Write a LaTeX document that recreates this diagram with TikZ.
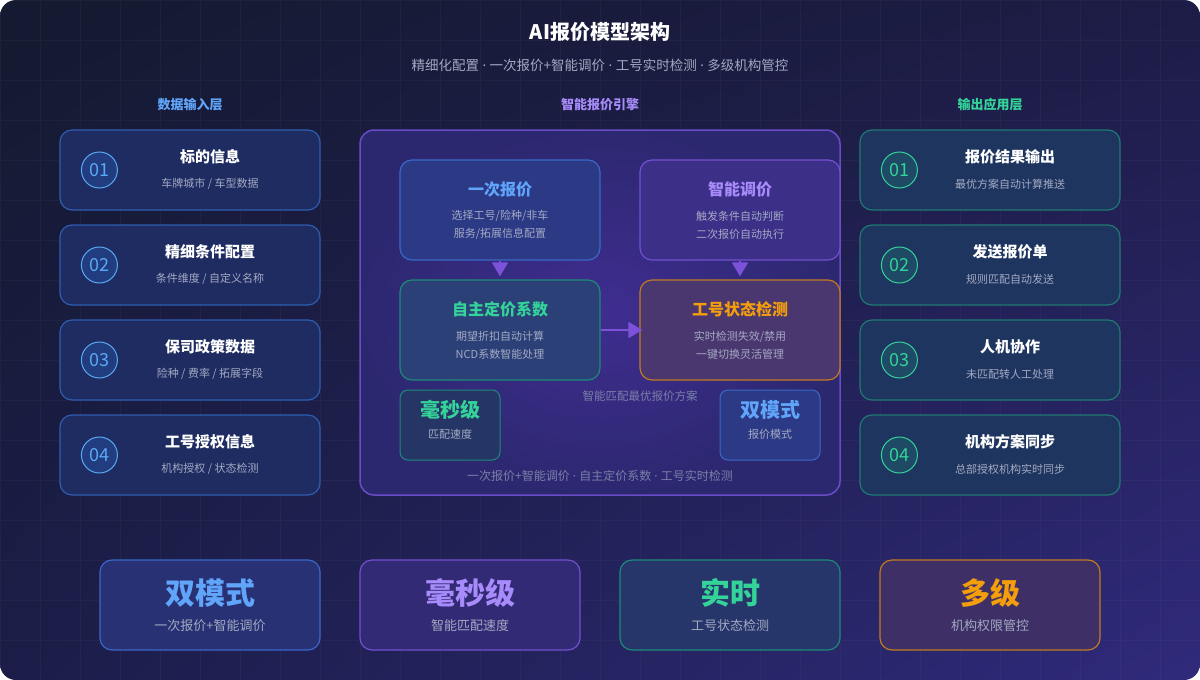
\documentclass[tikz,border=0pt]{standalone}
\usepackage{fontspec}
\setmainfont{Noto Sans CJK SC}
\newfontfamily\latinfont{Noto Sans}
\usepackage{xcolor}
\usetikzlibrary{positioning,arrows.meta,shadings}

\definecolor{bgA}{HTML}{141A30}
\definecolor{bgB}{HTML}{1D1C46}
\definecolor{bgC}{HTML}{1B1D48}
\definecolor{bgD}{HTML}{302A7C}
\definecolor{inFill}{HTML}{1F2C62}
\definecolor{inLine}{HTML}{2E5DB0}
\definecolor{inNum}{HTML}{5AA9F5}
\definecolor{inCirc}{HTML}{213D80}
\definecolor{outFill}{HTML}{1E3560}
\definecolor{outLine}{HTML}{1E7A72}
\definecolor{outNum}{HTML}{34D399}
\definecolor{outCirc}{HTML}{1E4A66}
\definecolor{engFill}{HTML}{2C2870}
\definecolor{engGlow}{HTML}{3F2D90}
\definecolor{engLine}{HTML}{6A4CC8}
\definecolor{blueFill}{HTML}{2C3A86}
\definecolor{blueLine}{HTML}{3A68C8}
\definecolor{blueText}{HTML}{60A5FA}
\definecolor{purpFill}{HTML}{3C2F88}
\definecolor{purpLine}{HTML}{7350CF}
\definecolor{purpText}{HTML}{A78BFA}
\definecolor{tealFill}{HTML}{2C4078}
\definecolor{tealLine}{HTML}{1D8A78}
\definecolor{tealText}{HTML}{34D399}
\definecolor{orFill}{HTML}{4A3770}
\definecolor{orLine}{HTML}{C27A22}
\definecolor{orText}{HTML}{F59E0B}
\definecolor{greyText}{HTML}{A3A9C2}
\definecolor{dimText}{HTML}{7B7FA8}
\definecolor{arrowC}{HTML}{7B52D9}

% narrow separator dot
\newcommand{\sepdot}{{\latinfont\ ·\ }}

\begin{document}
\begin{tikzpicture}[x=1pt, y=-1pt,
    incard/.style = {draw=inLine, fill=inFill, rounded corners=12pt, line width=1.2pt, minimum width=260pt, minimum height=80pt},
    outcard/.style = {incard, draw=outLine, fill=outFill},
    innum/.style = {circle, draw=inNum, fill=inCirc, line width=1pt, minimum size=36pt, inner sep=0pt, text=inNum, font=\fontsize{18}{18}\selectfont},
    outnum/.style = {innum, draw=outNum, fill=outCirc, text=outNum},
    cardtitle/.style = {text=white, font=\fontsize{15}{15}\selectfont\bfseries},
    cardsub/.style = {text=greyText, font=\fontsize{11}{11}\selectfont},
    layer/.style = {font=\fontsize{13}{13}\selectfont\bfseries},
    engbox/.style = {rounded corners=12pt, line width=1.2pt, minimum width=200pt, minimum height=100pt},
    enghead/.style = {font=\fontsize{16}{16}\selectfont\bfseries},
    engsub/.style = {text=greyText, align=center, font=\fontsize{11}{18}\selectfont},
    smallbox/.style = {rounded corners=8pt, line width=1pt, minimum width=100pt, minimum height=70pt},
    smallhead/.style = {font=\fontsize{20}{20}\selectfont\bfseries},
    bigbox/.style = {rounded corners=12pt, line width=1.2pt, minimum width=220pt, minimum height=90pt},
    bighead/.style = {font=\fontsize{30}{30}\selectfont\bfseries},
    bigsub/.style = {text=greyText, font=\fontsize{13}{13}\selectfont},
    flow/.style = {draw=arrowC, line width=1.5pt, -{Triangle[width=16pt,length=14pt]}}]

    % background
    \useasboundingbox (0,0) rectangle (1200,680);
    \shade[rounded corners=16pt, upper left=bgA, upper right=bgB, lower left=bgC, lower right=bgD] (0,0) rectangle (1200,680);
    \begin{scope}
        \clip[rounded corners=16pt] (0,0) rectangle (1200,680);
        \draw[white, opacity=0.03, step=40pt] (0,0) grid (1200,680);
    \end{scope}

    \node[text=white, font=\fontsize{20}{20}\selectfont\bfseries] (title) at (600,32) {AI报价模型架构};
    \node[text=greyText, font=\fontsize{13.5}{13.5}\selectfont] (subtitle) at (600,65) {精细化配置\sepdot 一次报价+智能调价\sepdot 工号实时检测\sepdot 多级机构管控};

    % input layer
    \node[layer, text=blueText] (inhead) at (190,105) {数据输入层};
    \node[incard] (in1) at (190,170) {};
    \node[incard, below=13.8pt of in1] (in2) {};
    \node[incard, below=13.8pt of in2] (in3) {};
    \node[incard, below=13.8pt of in3] (in4) {};

    \node[innum] at ([xshift=40pt]in1.west) {01};
    \node[cardtitle] at ([xshift=20pt, yshift=13pt]in1.center) {标的信息};
    \node[cardsub] at ([xshift=20pt, yshift=-14pt]in1.center) {车牌城市 / 车型数据};
    \node[innum] at ([xshift=40pt]in2.west) {02};
    \node[cardtitle] at ([xshift=20pt, yshift=13pt]in2.center) {精细条件配置};
    \node[cardsub] at ([xshift=20pt, yshift=-14pt]in2.center) {条件维度 / 自定义名称};
    \node[innum] at ([xshift=40pt]in3.west) {03};
    \node[cardtitle] at ([xshift=20pt, yshift=13pt]in3.center) {保司政策数据};
    \node[cardsub] at ([xshift=20pt, yshift=-14pt]in3.center) {险种 / 费率 / 拓展字段};
    \node[innum] at ([xshift=40pt]in4.west) {04};
    \node[cardtitle] at ([xshift=20pt, yshift=13pt]in4.center) {工号授权信息};
    \node[cardsub] at ([xshift=20pt, yshift=-14pt]in4.center) {机构授权 / 状态检测};

    % output layer
    \node[layer, text=tealText] (outhead) at (990,105) {输出应用层};
    \node[outcard] (out1) at (990,170) {};
    \node[outcard, below=13.8pt of out1] (out2) {};
    \node[outcard, below=13.8pt of out2] (out3) {};
    \node[outcard, below=13.8pt of out3] (out4) {};

    \node[outnum] at ([xshift=40pt]out1.west) {01};
    \node[cardtitle] at ([xshift=20pt, yshift=13pt]out1.center) {报价结果输出};
    \node[cardsub] at ([xshift=20pt, yshift=-14pt]out1.center) {最优方案自动计算推送};
    \node[outnum] at ([xshift=40pt]out2.west) {02};
    \node[cardtitle] at ([xshift=20pt, yshift=13pt]out2.center) {发送报价单};
    \node[cardsub] at ([xshift=20pt, yshift=-14pt]out2.center) {规则匹配自动发送};
    \node[outnum] at ([xshift=40pt]out3.west) {03};
    \node[cardtitle] at ([xshift=20pt, yshift=13pt]out3.center) {人机协作};
    \node[cardsub] at ([xshift=20pt, yshift=-14pt]out3.center) {未匹配转人工处理};
    \node[outnum] at ([xshift=40pt]out4.west) {04};
    \node[cardtitle] at ([xshift=20pt, yshift=13pt]out4.center) {机构方案同步};
    \node[cardsub] at ([xshift=20pt, yshift=-14pt]out4.center) {总部授权机构实时同步};

    % engine
    \node[layer, text=purpText] (enghead) at (600,105) {智能报价引擎};
    \shade[rounded corners=14pt, inner color=engGlow, outer color=engFill] (360,130) rectangle (840,495);
    \draw[engLine, line width=1.5pt, rounded corners=14pt] (360,130) rectangle (840,495);

    \node[engbox, draw=blueLine, fill=blueFill] (first) at (500,210) {};
    \node[enghead, text=blueText] at ([yshift=21pt]first.center) {一次报价};
    \node[engsub] at ([yshift=-15pt]first.center) {选择工号/险种/非车\\服务/拓展信息配置};

    \node[engbox, draw=purpLine, fill=purpFill] (adjust) at (740,210) {};
    \node[enghead, text=purpText] at ([yshift=21pt]adjust.center) {智能调价};
    \node[engsub] at ([yshift=-15pt]adjust.center) {触发条件自动判断\\二次报价自动执行};

    \node[engbox, draw=tealLine, fill=tealFill] (coef) at (500,330) {};
    \node[enghead, text=tealText] at ([yshift=21pt]coef.center) {自主定价系数};
    \node[engsub] at ([yshift=-15pt]coef.center) {期望折扣自动计算\\NCD系数智能处理};

    \node[engbox, draw=orLine, fill=orFill] (check) at (740,330) {};
    \node[enghead, text=orText] at ([yshift=21pt]check.center) {工号状态检测};
    \node[engsub] at ([yshift=-15pt]check.center) {实时检测失效/禁用\\一键切换灵活管理};

    \draw[flow] (first) -- ([yshift=3pt]coef.north);
    \draw[flow] (adjust) -- ([yshift=3pt]check.north);
    \draw[flow] (coef) -- ([xshift=3pt]check.west);

    \node[text=dimText, font=\fontsize{11.5}{11.5}\selectfont] (match) at (640,396) {智能匹配最优报价方案};

    \node[smallbox, draw=tealLine, fill=tealFill!85!black] (speed) at (450,425) {};
    \node[smallhead, text=tealText] at ([yshift=15pt]speed.center) {毫秒级};
    \node[cardsub] at ([yshift=-9pt]speed.center) {匹配速度};

    \node[smallbox, draw=blueLine, fill=blueFill] (mode) at (770,425) {};
    \node[smallhead, text=blueText] at ([yshift=15pt]mode.center) {双模式};
    \node[cardsub] at ([yshift=-9pt]mode.center) {报价模式};

    \node[text=dimText, font=\fontsize{12}{12}\selectfont] (engfoot) at (600,476) {一次报价+智能调价\sepdot 自主定价系数\sepdot 工号实时检测};

    % bottom stats
    \node[bigbox, draw=blueLine, fill=blueFill!70!bgC] (stat1) at (210,605) {};
    \node[bighead, text=blueText] at ([yshift=12pt]stat1.center) {双模式};
    \node[bigsub] at ([yshift=-21pt]stat1.center) {一次报价+智能调价};

    \node[bigbox, draw=purpLine, fill=purpFill!70!bgC] (stat2) at (470,605) {};
    \node[bighead, text=purpText] at ([yshift=12pt]stat2.center) {毫秒级};
    \node[bigsub] at ([yshift=-21pt]stat2.center) {智能匹配速度};

    \node[bigbox, draw=tealLine, fill=tealFill!70!bgC] (stat3) at (730,605) {};
    \node[bighead, text=tealText] at ([yshift=12pt]stat3.center) {实时};
    \node[bigsub] at ([yshift=-21pt]stat3.center) {工号状态检测};

    \node[bigbox, draw=orLine, fill=orFill!75!bgC] (stat4) at (990,605) {};
    \node[bighead, text=orText] at ([yshift=12pt]stat4.center) {多级};
    \node[bigsub] at ([yshift=-21pt]stat4.center) {机构权限管控};

\end{tikzpicture}
\end{document}
